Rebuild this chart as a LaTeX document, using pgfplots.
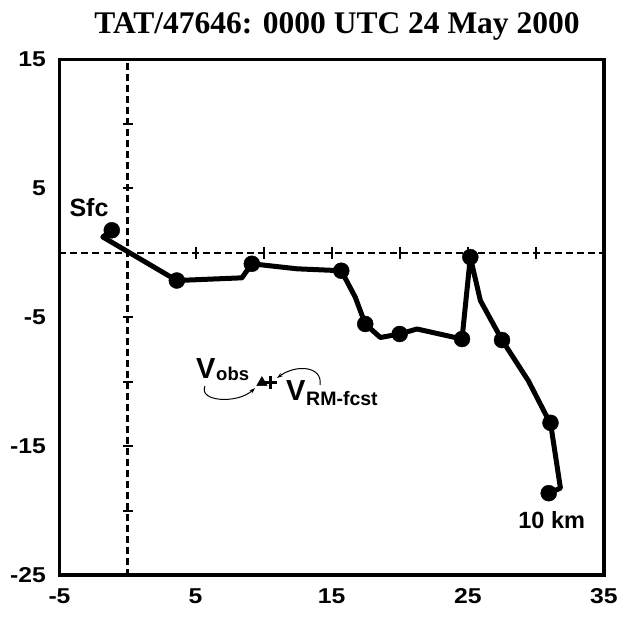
\documentclass[border=0pt]{standalone}
\usepackage{fontspec}
\setmainfont{Liberation Sans}
\newfontfamily\titlefont{Liberation Serif}
\newfontfamily\tickfont[FakeStretch=1.15]{Liberation Sans}
\usepackage{pgfplots}
\pgfplotsset{compat=1.18}
\usetikzlibrary{arrows.meta}

\pgfplotstableread{
x y
-1.16 1.75
-1.82 1.23
3.62 -2.15
8.40 -1.94
9.13 -0.85
12.44 -1.24
15.70 -1.39
16.73 -3.45
17.46 -5.52
18.57 -6.57
19.99 -6.30
21.26 -5.91
24.57 -6.69
25.18 -0.33
25.92 -3.71
27.51 -6.77
29.45 -9.94
30.70 -12.51
31.07 -13.19
31.80 -18.26
30.94 -18.65
}\hodo

\pgfplotstableread{
x y
-1.16 1.75
3.62 -2.15
9.13 -0.85
15.70 -1.39
17.46 -5.52
19.99 -6.30
24.57 -6.69
25.18 -0.33
27.51 -6.77
31.07 -13.19
30.94 -18.65
}\levels

\begin{document}
\begin{tikzpicture}[x=1pt,y=1pt]
\useasboundingbox (0,0) rectangle (625,-619);
\begin{axis}[
  at={(59.5pt,-575pt)}, anchor=south west,
  scale only axis, width=544.5pt, height=515.5pt,
  xmin=-5, xmax=35, ymin=-25, ymax=15,
  xtick={-5,5,15,25,35}, ytick={-25,-15,-5,5,15},
  major tick length=0pt,
  axis line style={line width=3.2pt},
  tick label style={font=\tickfont\bfseries\fontsize{21.5}{21.5}\selectfont},
  /pgf/number format/assume math mode=true,
  xticklabel style={yshift=-10pt},
  yticklabel style={xshift=-10pt},
  clip=false,
]
\addplot[line width=2.2pt, dash pattern=on 7pt off 4pt] coordinates {(-5,0) (35,0)};
\addplot[line width=2.2pt, dash pattern=on 7pt off 4pt] coordinates {(0,14.7) (0,-25)};
\addplot[only marks, mark=|, mark size=6pt, line width=2pt] coordinates {(5,0)(10,0)(15,0)(20,0)(25,0)(30,0)};
\addplot[only marks, mark=-, mark size=5pt, line width=2pt] coordinates {(0,10)(0,5)(0,-5)(0,-10)(0,-15)(0,-20)};
\addplot[line width=5pt, line join=round, line cap=round] table {\hodo};
\addplot[only marks, mark=*, mark size=8pt] table {\levels};
\addplot[only marks, mark=triangle*, mark size=6pt] coordinates {(9.87,-10.07)};
\addplot[only marks, mark=+, mark size=6.5pt, line width=3pt] coordinates {(10.48,-10.07)};
\end{axis}
\node[anchor=base, font=\titlefont\bfseries\fontsize{31.5}{31.5}\selectfont, inner sep=0] at (337,-33) {TAT/47646: 0000 UTC 24 May 2000};
\node[anchor=base, font=\bfseries\fontsize{25}{25}\selectfont, inner sep=0] at (89,-216) {Sfc};
\node[anchor=base, font=\bfseries\fontsize{23.5}{23.5}\selectfont, inner sep=0] at (551.7,-528) {10 km};
\node[anchor=base west, font=\bfseries\fontsize{29}{29}\selectfont, inner sep=0] at (196,-378) {V};
\node[anchor=base west, font=\bfseries\fontsize{18.5}{18.5}\selectfont, inner sep=0] at (216,-380) {obs};
\node[anchor=base west, font=\bfseries\fontsize{29}{29}\selectfont, inner sep=0] at (286,-400) {V};
\node[anchor=base west, font=\bfseries\fontsize{19.5}{19.5}\selectfont, inner sep=0] at (306,-405) {RM-fcst};
\draw[-{Stealth[length=6pt,width=4pt]}, line width=1pt] (205,-386) .. controls (198,-402) and (238,-404) .. (255,-388);
\draw[-{Stealth[length=6pt,width=4pt]}, line width=1pt] (320,-385) .. controls (323,-366) and (296,-364) .. (277,-378);
\end{tikzpicture}
\end{document}
